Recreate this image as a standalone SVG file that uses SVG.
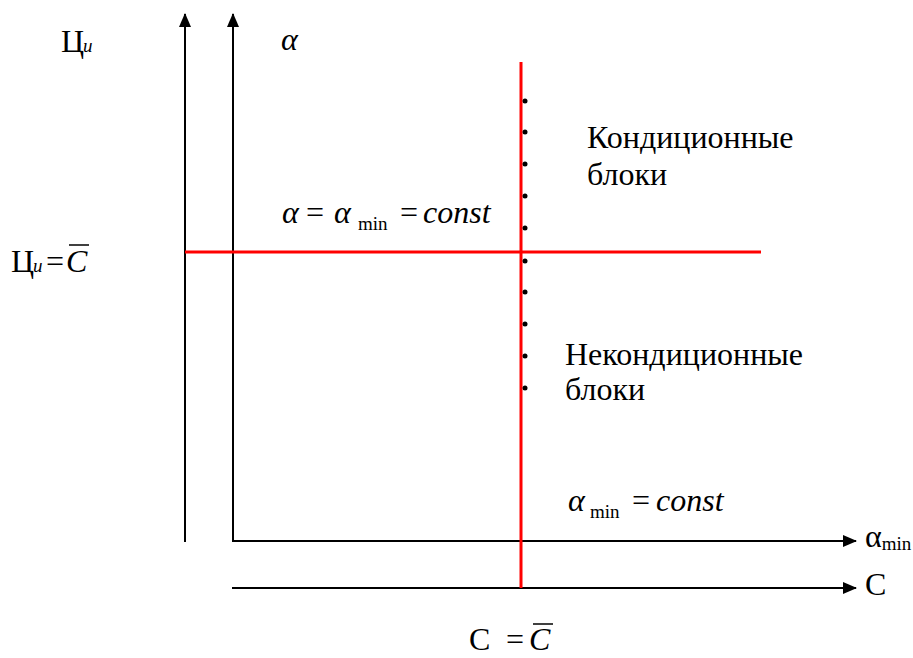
<svg xmlns="http://www.w3.org/2000/svg" width="913" height="658" viewBox="0 0 913 658">
<style>
.t{font-size:32px}
.s{font-size:19px}
.i{font-style:italic}
.ax{stroke:#000;stroke-width:2;fill:none}
.red{stroke:#ff0000;stroke-width:3;fill:none}
.ov{stroke:#000;stroke-width:1.5}
</style>
<defs>
<marker id="arr" viewBox="0 0 14 12" refX="13" refY="6" markerWidth="14" markerHeight="12" markerUnits="userSpaceOnUse" orient="auto">
<path d="M0,0 L14,6 L0,12 Z" fill="#000"/>
</marker>
</defs>
<rect width="913" height="658" fill="#fff"/>
<g id="connectors">
<line class="ax" x1="185" y1="542" x2="185" y2="14" marker-end="url(#arr)"/>
<line class="ax" x1="233" y1="542" x2="233" y2="14" marker-end="url(#arr)"/>
<line class="ax" x1="232" y1="541" x2="856" y2="541" marker-end="url(#arr)"/>
<line class="ax" x1="232" y1="588" x2="856" y2="588" marker-end="url(#arr)"/>
<line class="red" x1="521" y1="62" x2="521" y2="588"/>
<line class="red" x1="185" y1="252" x2="761" y2="252"/>
</g>
<g id="dots" fill="#000">
<circle cx="525" cy="101" r="2.5"/>
<circle cx="525" cy="132" r="2.5"/>
<circle cx="525" cy="164" r="2.5"/>
<circle cx="525" cy="196" r="2.5"/>
<circle cx="525" cy="228" r="2.5"/>
<circle cx="525" cy="261" r="2.5"/>
<circle cx="525" cy="292" r="2.5"/>
<circle cx="525" cy="324" r="2.5"/>
<circle cx="525" cy="356" r="2.5"/>
<circle cx="525" cy="388" r="2.5"/>
</g>
<g font-family="'Liberation Serif', 'Times New Roman', 'DejaVu Serif', serif" fill="#000">
<g id="label-ci">
<text x="61" y="52" class="t">Ц<tspan class="s i" x="83">и</tspan></text>
</g>
<g id="label-alpha">
<text x="281" y="50" class="t i">α</text>
</g>
<g id="label-line-h">
<text y="223" class="t"><tspan class="i" x="282">α</tspan><tspan x="306">=</tspan><tspan class="i" x="334">α</tspan><tspan class="s" x="358" y="230">min</tspan><tspan x="400" y="223">=</tspan><tspan class="i" x="423">const</tspan></text>
</g>
<g id="label-ci-c">
<text y="272" class="t"><tspan x="11">Ц</tspan><tspan class="s i" x="33">и</tspan><tspan x="46">=</tspan><tspan class="i" x="66">C</tspan></text>
<line class="ov" x1="69" y1="245" x2="89" y2="245"/>
</g>
<g id="label-cond">
<text x="587" y="148" class="t">Кондиционные</text>
<text x="587" y="185" class="t">блоки</text>
</g>
<g id="label-noncond">
<text x="565" y="365" class="t">Некондиционные</text>
<text x="565" y="400" class="t">блоки</text>
</g>
<g id="label-line-v">
<text y="511" class="t"><tspan class="i" x="568">α</tspan><tspan class="s" x="590" y="518">min</tspan><tspan x="632" y="511">=</tspan><tspan class="i" x="656">const</tspan></text>
</g>
<g id="label-axis-amin">
<text x="865" y="547" class="t">α<tspan class="s" y="550">min</tspan></text>
</g>
<g id="label-axis-c">
<text x="865" y="595" class="t">C</text>
</g>
<g id="label-c-cbar">
<text y="650" class="t"><tspan x="469">C</tspan><tspan x="506">=</tspan><tspan class="i" x="529">C</tspan></text>
<line class="ov" x1="533" y1="624" x2="553" y2="624"/>
</g>
</g>
</svg>
